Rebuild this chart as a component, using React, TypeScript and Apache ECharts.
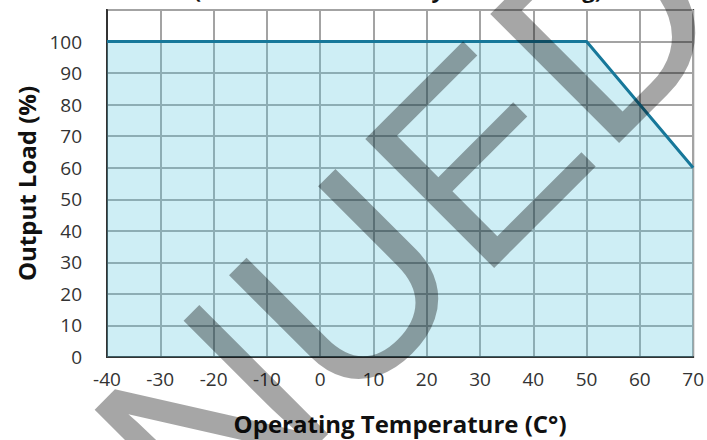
import React, { useEffect, useRef } from "react";
import * as echarts from "echarts";

const temperatureC = [-40, 50, 70];
const outputLoadPct = [100, 100, 60];
const xMin = -40;
const xMax = 70;
const yMin = 0;
const yMax = 110;
const tickStep = 10;
const xAxisTitle = "Operating Temperature (C°)";
const yAxisTitle = "Output Load (%)";
const chartTitle = "(Load Derated Linearly Above Rating)";
const watermarkText = "DISCONTINUED";

export default function App() {
  const ref = useRef<HTMLDivElement>(null);
  useEffect(() => {
    if (!ref.current) return;
    const chart = echarts.init(ref.current, null, { renderer: "svg" });
    const labelStyle = {
      color: "#333",
      fontFamily: "Open Sans",
      fontSize: 19,
    };
    const nameStyle = {
      color: "#111",
      fontFamily: "Open Sans",
      fontWeight: "bold",
      fontSize: 24,
    };
    chart.setOption({
      animation: false,
      backgroundColor: "#fff",
      grid: {
        left: 107,
        right: 12,
        top: 10,
        bottom: 82,
        show: true,
        borderColor: "#333",
        borderWidth: 2,
        backgroundColor: "transparent",
      },
      xAxis: {
        type: "value",
        min: xMin,
        max: xMax,
        interval: tickStep,
        name: xAxisTitle,
        nameLocation: "middle",
        nameGap: 54,
        nameTextStyle: nameStyle,
        axisLine: { show: true, onZero: false, lineStyle: { color: "#333", width: 2 } },
        axisTick: { show: false },
        axisLabel: { ...labelStyle, margin: 12 },
        splitLine: { show: true, lineStyle: { color: "#a3a3a3", width: 2 } },
      },
      yAxis: {
        type: "value",
        min: yMin,
        max: yMax,
        interval: tickStep,
        name: yAxisTitle,
        nameLocation: "middle",
        nameRotate: 90,
        nameGap: 66,
        nameTextStyle: nameStyle,
        axisLine: { show: true, onZero: false, lineStyle: { color: "#333", width: 2 } },
        axisTick: { show: false },
        axisLabel: {
          ...labelStyle,
          margin: 25,
          formatter: (v: number) => (v > 100 ? "" : String(v)),
        },
        splitLine: { show: true, lineStyle: { color: "#a3a3a3", width: 2 } },
      },
      series: [
        {
          type: "line",
          data: temperatureC.map((t, i) => [t, outputLoadPct[i]]),
          symbol: "none",
          lineStyle: { color: "#17789a", width: 3 },
          areaStyle: { color: "rgba(92,200,221,0.3)", opacity: 1 },
          z: 3,
        },
      ],
      graphic: [
        {
          type: "text",
          x: 398,
          y: 0,
          z: 50,
          style: {
            text: chartTitle,
            fontFamily: "Open Sans",
            fontWeight: "bold",
            fontSize: 22,
            fill: "#111",
            textAlign: "center",
            textVerticalAlign: "bottom",
            align: "center",
            verticalAlign: "bottom",
          },
        },
        {
          type: "text",
          x: 674,
          y: -42,
          rotation: Math.PI / 4,
          z: 100,
          silent: true,
          style: {
            text: watermarkText,
            fontFamily: "Liberation Sans",
            fontSize: 265,
            fill: "rgba(0,0,0,0.35)",
            textAlign: "right",
            textVerticalAlign: "middle",
            align: "right",
            verticalAlign: "middle",
          },
        },
      ],
    });
    return () => chart.dispose();
  }, []);
  return (
    <div
      ref={ref}
      style={{ position: "fixed", left: 0, top: 0, width: 707, height: 440 }}
    />
  );
}
